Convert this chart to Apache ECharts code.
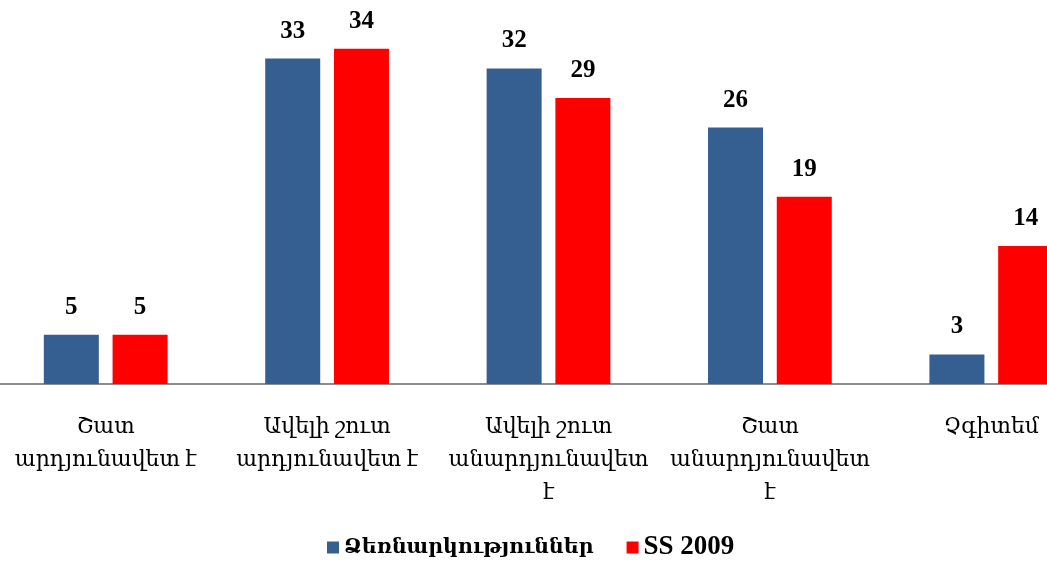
<!DOCTYPE html>
<html>
<head>
<meta charset="utf-8">
<script src="https://cdn.jsdelivr.net/npm/echarts@6/dist/echarts.min.js"></script>
<style>
  html, body { margin: 0; padding: 0; background: #ffffff; }
  #chart { width: 1047px; height: 563px; }
</style>
</head>
<body>
<div id="chart"></div>
<script>
// Survey answers: how effective is it (per cent)
const categories = [
  'Շատ\nարդյունավետ է',
  'Ավելի շուտ\nարդյունավետ է',
  'Ավելի շուտ\nանարդյունավետ\nէ',
  'Շատ\nանարդյունավետ\nէ',
  'Չգիտեմ'
];
const seriesNames = ['Ձեռնարկություններ', 'SS 2009'];
const enterprises = [5, 33, 32, 26, 3];
const ss2009 = [5, 34, 29, 19, 14];

const serifArm = '"Liberation Serif", "DejaVu Serif", serif';

const chart = echarts.init(document.getElementById('chart'), null, { renderer: 'canvas' });

const labelStyle = {
  show: true,
  position: 'top',
  distance: 15,
  fontFamily: '"Liberation Serif", serif',
  fontWeight: 'bold',
  fontSize: 25,
  color: '#000000'
};

chart.setOption({
  animation: false,
  backgroundColor: '#ffffff',
  grid: {
    left: -5,
    width: 1107,
    top: 29,
    bottom: 179,
    containLabel: false,
    outerBoundsMode: 'none'
  },
  legend: {
    top: 529,
    left: 322,
    itemWidth: 12,
    itemHeight: 12,
    itemGap: 33,
    icon: 'rect',
    formatter: function (name) {
      return name === seriesNames[0] ? '{arm|' + name + '}' : '{lat|' + name + '}';
    },
    textStyle: {
      color: '#000000',
      fontWeight: 'bold',
      rich: {
        arm: { fontFamily: serifArm, fontWeight: 'bold', fontSize: 20.5, color: '#000000' },
        lat: { fontFamily: '"Liberation Serif", serif', fontWeight: 'bold', fontSize: 27, color: '#000000' }
      }
    },
    data: seriesNames
  },
  xAxis: {
    type: 'category',
    data: categories,
    axisLine: { show: true, lineStyle: { color: '#8c8c8c', width: 2 } },
    axisTick: { show: false },
    axisLabel: {
      interval: 0,
      margin: 27,
      fontFamily: serifArm,
      fontSize: 22,
      lineHeight: 33,
      color: '#000000',
      align: 'center',
      verticalAlign: 'top'
    }
  },
  yAxis: {
    type: 'value',
    min: 0,
    max: 36,
    show: false,
    splitLine: { show: false }
  },
  series: [
    {
      name: seriesNames[0],
      type: 'bar',
      data: enterprises,
      barWidth: 55,
      barGap: '25%',
      itemStyle: { color: '#365F91' },
      label: labelStyle
    },
    {
      name: seriesNames[1],
      type: 'bar',
      data: ss2009,
      barWidth: 55,
      itemStyle: { color: '#FF0000' },
      label: labelStyle
    }
  ]
});
</script>
</body>
</html>
